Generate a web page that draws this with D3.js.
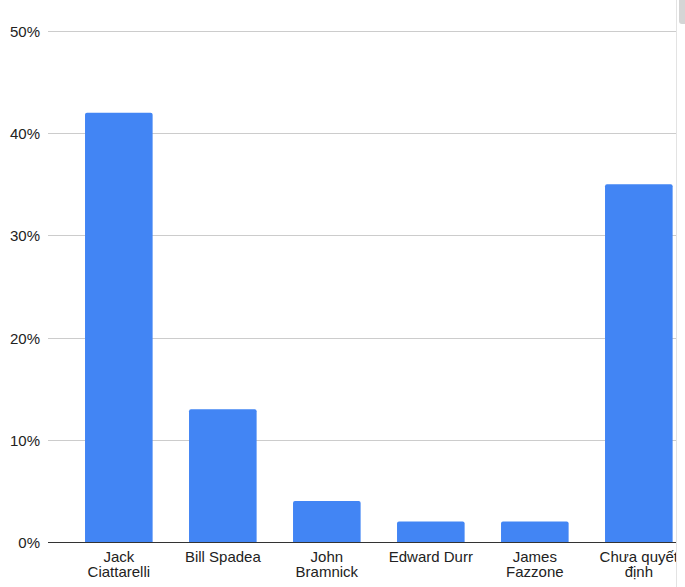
<!DOCTYPE html>
<html>
<head>
<meta charset="utf-8">
<script src="https://cdn.jsdelivr.net/npm/d3@7"></script>
<style>
  body { margin: 0; background: #fff; }
  svg { display: block; font-family: "Liberation Sans", Arial, sans-serif; }
</style>
</head>
<body>
<div id="chart"></div>
<script>
// candidates and their poll share
const candidates = [
  ["Jack", "Ciattarelli"],
  ["Bill Spadea"],
  ["John", "Bramnick"],
  ["Edward Durr"],
  ["James", "Fazzone"],
  ["Chưa quyết", "định"]
];
const shares = [0.42, 0.13, 0.04, 0.02, 0.02, 0.35];
const yTicks = [0, 0.1, 0.2, 0.3, 0.4, 0.5];

const width = 685,
  height = 587,
  margin = { top: 31, left: 48, bottom: 45 },
  viewRight = 677; // screenshot is cut off here

const data = candidates.map((lines, i) => ({ lines, key: i, value: shares[i] }));

const svg = d3
  .select("#chart")
  .append("svg")
  .attr("width", width)
  .attr("height", height);

svg.append("clipPath")
  .attr("id", "clipView")
  .append("rect")
  .attr("x", 0)
  .attr("y", 0)
  .attr("width", viewRight - 0.5)
  .attr("height", height);

const g = svg.append("g").attr("clip-path", "url(#clipView)");

const x = d3
  .scaleBand()
  .domain(data.map((d) => d.key))
  .range([margin.left, margin.left + 104 * (6 - 0.35 + 2 * 0.356)])
  .paddingInner(0.35)
  .paddingOuter(0.356);

const y = d3
  .scaleLinear()
  .domain([0, 0.5])
  .range([height - margin.bottom, margin.top]);

// gridlines + y labels
const yAxis = g.append("g")
  .attr("transform", `translate(${margin.left},0)`)
  .call(
    d3.axisLeft(y)
      .tickValues(yTicks)
      .tickFormat(d3.format(".0%"))
      .tickSize(-(viewRight - margin.left))
      .tickPadding(8)
  );
yAxis.select(".domain").remove();
yAxis.selectAll(".tick line").attr("stroke", "#cccccc").attr("shape-rendering", "crispEdges");
yAxis.selectAll(".tick text")
  .attr("fill", "#222")
  .attr("font-size", 15)
  .attr("dy", "0.36em");

// bars
g.append("g")
  .selectAll("path")
  .data(data)
  .join("path")
  .attr("fill", "#4285f4")
  .attr("d", (d) => {
    const x0 = x(d.key), w = x.bandwidth();
    const y0 = y(d.value), y1 = y(0), r = 2;
    return `M${x0},${y1}V${y0 + r}Q${x0},${y0} ${x0 + r},${y0}H${x0 + w - r}Q${x0 + w},${y0} ${x0 + w},${y0 + r}V${y1}Z`;
  });

// baseline
g.append("line")
  .attr("x1", margin.left)
  .attr("x2", viewRight)
  .attr("y1", y(0) + 0.5)
  .attr("y2", y(0) + 0.5)
  .attr("stroke", "#333")
  .attr("stroke-width", 1);

// category labels
const labels = g.append("g")
  .selectAll("text")
  .data(data)
  .join("text")
  .attr("text-anchor", "middle")
  .attr("font-size", 15)
  .attr("fill", "#222")
  .attr("x", (d) => x(d.key) + x.bandwidth() / 2)
  .attr("y", y(0) + 20);

labels.selectAll("tspan")
  .data((d) => d.lines.map((t) => ({ t, cx: x(d.key) + x.bandwidth() / 2 })))
  .join("tspan")
  .attr("x", (d) => d.cx)
  .attr("dy", (d, i) => (i ? 15 : 0))
  .text((d) => d.t);

// page edge and scrollbar from the screenshot
svg.append("line")
  .attr("x1", viewRight - 0.5)
  .attr("x2", viewRight - 0.5)
  .attr("y1", 0)
  .attr("y2", height)
  .attr("stroke", "#e3e3e3");

svg.append("rect")
  .attr("x", 679)
  .attr("y", -4)
  .attr("width", 8)
  .attr("height", 28)
  .attr("rx", 3)
  .attr("fill", "#d5d5d5");
</script>
</body>
</html>
